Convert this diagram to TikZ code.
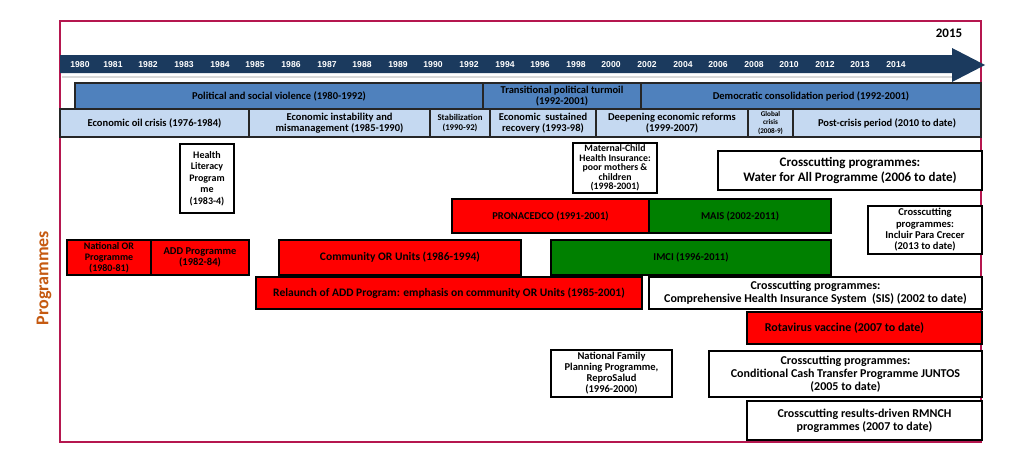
\documentclass[tikz,border=0pt]{standalone}
\usepackage{fontspec}
\setmainfont{Carlito}
\newfontfamily\yrfont{Liberation Sans}
\definecolor{framec}{HTML}{B5174F}
\definecolor{navy}{HTML}{1B3A5E}
\definecolor{polblue}{HTML}{4F81BD}
\definecolor{ecoblue}{HTML}{C5D9F1}
\definecolor{progred}{HTML}{FF0000}
\definecolor{proggreen}{HTML}{008000}
\definecolor{progorange}{HTML}{C55A11}
\newcommand\bx[7]{\node[#6, minimum width={(#4-#2)*1pt}, minimum height={(#5-#3)*1pt}] (#1) at ({(#2+#4)/2},{(#3+#5)/2}) {#7};}
\begin{document}
\begin{tikzpicture}[x=1pt,y=-1pt,
  fz/.style 2 args={font=\bfseries\fontsize{#1}{#2}\selectfont},
  rowbox/.style={draw=black!85, line width=1.3pt, inner sep=0.5pt, align=center},
  polbox/.style={rowbox, fill=polblue},
  ecobox/.style={rowbox, fill=ecoblue},
  progbox/.style={draw=black, line width=1.3pt, inner sep=0.5pt, align=center},
  redbox/.style={progbox, fill=progred},
  greenbox/.style={progbox, fill=proggreen},
  whitebox/.style={progbox, fill=white},
  yearlbl/.style={text=white, font=\yrfont\bfseries\fontsize{8.6}{10}\selectfont, inner sep=0pt}
]
\useasboundingbox (0,0) rectangle (1024,455);
% frame
\draw[framec, line width=2pt] (60,21) rectangle (981,442);
% timeline arrow
\draw[black!15, line width=2pt] (62,77) -- (952,77);
\fill[navy] (60,55) -- (952,55) -- (952,48) -- (985,65) -- (952,82) -- (952,73) -- (60,73) -- cycle;
\foreach \yx/\yl in {80/1980,113/1981,148/1982,184/1983,220/1984,255/1985,291/1986,327/1987,362/1988,398/1989,433/1990,469/1992,505/1994,540/1996,576/1998,611/2000,647/2002,683/2004,718/2006,754/2008,789/2010,825/2012,860/2013,896/2014}
  \node[yearlbl] (y\yl) at (\yx,65) {\yl};
\node[fz={13}{15}, inner sep=0pt] (y2015) at (949,33) {2015};
% political row
\bx{pol1}{75}{83}{483}{109}{polbox,fz={10.5}{12}}{Political and social violence (1980-1992)}
\bx{pol2}{483}{83}{641}{109}{polbox,fz={10.5}{11.5}}{Transitional political turmoil\\(1992-2001)}
\bx{pol3}{641}{83}{981}{109}{polbox,fz={10.5}{12}}{Democratic consolidation period (1992-2001)}
% economic row
\bx{eco1}{60}{109}{249}{137}{ecobox,fz={10.5}{12}}{Economic oil crisis (1976-1984)}
\bx{eco2}{249}{109}{430}{137}{ecobox,fz={10.5}{11.5}}{Economic instability and\\mismanagement (1985-1990)}
\bx{eco3}{430}{109}{490}{137}{ecobox,fz={8.8}{10.5}}{Stabilization\\(1990-92)}
\bx{eco4}{490}{109}{596}{137}{ecobox,fz={10.5}{11.5}}{Economic\ \ sustained\\recovery (1993-98)}
\bx{eco5}{596}{109}{748}{137}{ecobox,fz={10.5}{11.5}}{Deepening economic reforms\\(1999-2007)}
\bx{eco6}{748}{109}{793}{137}{ecobox,fz={7.2}{8.3}}{Global\\crisis\\(2008-9)}
\bx{eco7}{793}{109}{981}{137}{ecobox,fz={10.5}{12}}{Post-crisis period (2010 to date)}
% programmes
\bx{hlp}{180}{144}{234}{213}{whitebox,fz={10}{11.6}}{Health\\Literacy\\Program\\me\\(1983-4)}
\bx{nor}{67}{240}{151}{275}{redbox,fz={10}{11}}{National OR\\Programme\\(1980-81)}
\bx{add}{151}{240}{249}{275}{redbox,fz={10.5}{11.5}}{ADD Programme\\(1982-84)}
\bx{cor}{279}{240}{521}{275}{redbox,fz={11.5}{13}}{Community OR Units (1986-1994)}
\bx{rel}{256}{277}{642}{309}{redbox,fz={11.5}{13}}{Relaunch of ADD Program: emphasis on community OR Units (1985-2001)}
\bx{mch}{573}{143}{657}{193}{whitebox,fz={9.8}{9.4}}{Maternal-Child\\Health Insurance:\\poor mothers \&\\children\\(1998-2001)}
\bx{pro}{452}{199}{649}{233}{redbox,fz={10.5}{12}}{PRONACEDCO (1991-2001)}
\bx{mais}{649}{199}{831}{233}{greenbox,fz={10.5}{12}}{MAIS (2002-2011)}
\bx{imci}{551}{240}{831}{275}{greenbox,fz={10.5}{12}}{IMCI (1996-2011)}
\bx{water}{718}{151}{982}{190}{whitebox,fz={13}{14.5}}{Crosscutting programmes:\\Water for All Programme (2006 to date)}
\bx{inc}{868}{206}{982}{254}{whitebox,fz={10.5}{11.3}}{Crosscutting\\programmes:\\Incluir Para Crecer\\(2013 to date)}
\bx{sis}{649}{277}{982}{309}{whitebox,fz={12}{12.8}}{Crosscutting programmes:\\Comprehensive Health Insurance System\ \ (SIS) (2002 to date)}
\bx{rota}{747}{312}{982}{344}{redbox,fz={12}{13}}{Rotavirus vaccine (2007 to date)\hspace{40pt}}
\bx{nfp}{551}{350}{672}{397}{whitebox,fz={10.5}{11}}{National Family\\Planning Programme,\\ReproSalud\\(1996-2000)}
\bx{junt}{709}{351}{982}{397}{whitebox,fz={12}{13.2}}{Crosscutting programmes:\\Conditional Cash Transfer Programme JUNTOS\\(2005 to date)}
\bx{rmn}{747}{401}{982}{440}{whitebox,fz={12}{13}}{Crosscutting results-driven RMNCH\\programmes (2007 to date)}
% side label
\node[rotate=90, text=progorange, fz={18}{20}, inner sep=0pt] (plabel) at (44,278) {Programmes};
\end{tikzpicture}
\end{document}
